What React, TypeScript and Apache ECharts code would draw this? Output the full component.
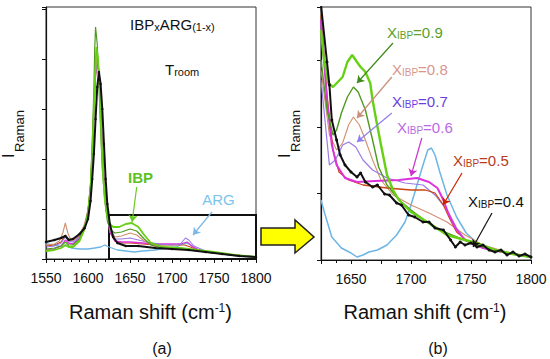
import React, { useEffect, useRef } from "react";
import * as echarts from "echarts";

const FONT = "'Liberation Sans', Arial, Helvetica, sans-serif";

// ---------- Panel (a): full range 1550-1800 cm-1 (intensity, a.u.) ----------
const IBP_A = [[1550,8],[1560,9],[1568,11],[1573,14],[1577,12],[1582,12],[1590,18],[1596,30],[1600,45],[1603,70],[1605,105],[1607,150],[1609,195],[1610,212],[1612,200],[1614,165],[1616,120],[1618,85],[1620,60],[1623,42],[1626,35],[1630,32],[1637,32],[1645,35],[1652,36],[1660,32],[1667,24],[1675,16],[1690,12],[1710,11],[1730,9],[1750,7],[1775,4],[1800,2]];
const X09_A = [[1550,10],[1560,11],[1568,13],[1573,17],[1577,14],[1582,14],[1590,20],[1596,32],[1600,48],[1603,75],[1605,115],[1607,170],[1608,210],[1609,232],[1611,215],[1613,175],[1615,130],[1617,90],[1620,58],[1623,38],[1627,29],[1632,26],[1640,27],[1650,30],[1658,28],[1667,20],[1675,14],[1690,11],[1710,10],[1730,8],[1750,6],[1775,4],[1800,2]];
const X08_A = [[1550,14],[1560,15],[1566,18],[1570,26],[1573,36],[1576,26],[1580,18],[1590,24],[1596,35],[1600,50],[1603,75],[1605,110],[1607,155],[1609,190],[1611,204],[1613,190],[1615,150],[1617,110],[1619,75],[1622,48],[1626,30],[1632,22],[1640,23],[1650,26],[1658,24],[1667,18],[1678,13],[1690,11],[1710,10],[1730,8],[1750,6],[1775,4],[1800,2]];
const X07_A = [[1550,12],[1560,13],[1568,16],[1573,22],[1577,18],[1582,17],[1590,22],[1596,33],[1600,48],[1603,72],[1605,106],[1607,150],[1609,186],[1611,201],[1613,188],[1615,150],[1617,110],[1619,76],[1622,48],[1626,29],[1632,20],[1640,20],[1650,21],[1660,19],[1670,17],[1685,15],[1700,14],[1710,15],[1716,21],[1720,19],[1726,13],[1740,8],[1760,5],[1780,3],[1800,2]];
const X06_A = [[1550,9],[1560,10],[1568,13],[1573,19],[1577,16],[1582,15],[1590,21],[1596,32],[1600,46],[1603,70],[1605,104],[1607,148],[1609,184],[1611,199],[1613,187],[1615,150],[1617,112],[1619,78],[1622,48],[1626,27],[1632,18],[1640,17],[1650,17],[1665,16],[1680,15],[1695,15],[1710,15],[1718,17],[1725,12],[1735,8],[1750,6],[1775,4],[1800,2]];
const X05_A = [[1550,13],[1560,14],[1568,17],[1573,24],[1577,20],[1582,19],[1590,23],[1596,34],[1600,47],[1603,71],[1605,105],[1607,148],[1609,183],[1611,197],[1613,185],[1615,148],[1617,110],[1619,76],[1622,47],[1626,27],[1632,18],[1640,16],[1650,16],[1665,15],[1680,14],[1700,14],[1715,14],[1722,12],[1730,9],[1745,7],[1770,4],[1800,2]];
const X04_A = [[1550,17],[1560,19],[1568,21],[1573,23],[1577,19],[1582,20],[1590,25],[1596,31],[1600,40],[1603,58],[1605,80],[1607,105],[1609,140],[1611,172],[1613,187],[1615,175],[1617,150],[1619,115],[1621,80],[1623,55],[1626,35],[1630,22],[1635,16],[1645,13],[1660,13],[1680,11],[1700,10],[1720,9],[1740,7],[1760,5],[1780,3],[1800,2]];
const ARG_A = [[1550,15],[1560,14],[1570,12],[1575,14],[1580,11],[1590,10],[1600,10],[1608,11],[1615,12],[1620,14],[1625,12],[1635,9],[1645,8],[1655,7],[1665,8],[1680,9],[1695,11],[1705,12],[1712,15],[1718,16],[1724,13],[1732,9],[1745,7],[1760,5],[1780,3],[1800,2]];

// ---------- Panel (b): zoom 1625-1800 cm-1 (intensity, a.u.) ----------
const IBP_B = [[1625,230],[1627,205],[1631,177],[1635,173],[1639,178],[1643,183],[1647,198],[1651,205],[1655,198],[1658,193],[1662,188],[1666,177],[1668,160],[1671,140],[1675,115],[1680,85],[1685,70],[1690,60],[1700,48],[1715,37],[1730,25],[1745,20],[1755,17],[1770,10],[1785,6],[1800,3]];
const X09_B = [[1625,200],[1630,150],[1635,125],[1638,130],[1642,147],[1647,163],[1652,173],[1656,168],[1662,150],[1668,120],[1673,93],[1680,75],[1690,60],[1700,50],[1720,32],[1740,22],[1760,13],[1780,7],[1800,3]];
const X08_B = [[1625,190],[1632,125],[1638,110],[1643,117],[1648,135],[1652,143],[1657,135],[1662,120],[1668,100],[1675,80],[1685,65],[1700,55],[1715,47],[1730,38],[1745,25],[1760,15],[1780,8],[1800,3]];
const X07_B = [[1625,180],[1632,95],[1637,100],[1643,115],[1648,118],[1654,113],[1660,100],[1668,90],[1680,82],[1695,77],[1710,75],[1720,65],[1730,50],[1738,32],[1745,20],[1760,12],[1780,7],[1800,3]];
const X06_B = [[1625,240],[1630,160],[1634,115],[1638,95],[1645,82],[1655,78],[1670,79],[1690,80],[1705,82],[1715,78],[1722,72],[1727,60],[1731,47],[1737,32],[1745,20],[1760,12],[1780,7],[1800,3]];
const X05_B = [[1625,245],[1630,165],[1635,110],[1640,88],[1648,80],[1660,75],[1680,72],[1700,70],[1712,70],[1720,67],[1727,55],[1732,42],[1738,28],[1748,18],[1760,12],[1780,7],[1800,3]];
const X04_B = [[1625,255],[1630,198],[1632,175],[1634,140],[1638,120],[1641,105],[1645,95],[1650,88],[1655,83],[1658,87],[1662,78],[1668,73],[1672,75],[1678,66],[1682,65],[1688,57],[1692,55],[1698,45],[1703,43],[1710,38],[1715,38],[1720,32],[1727,30],[1733,20],[1737,13],[1741,18],[1745,15],[1750,17],[1755,13],[1760,15],[1765,10],[1770,8],[1775,10],[1780,5],[1785,8],[1790,4],[1795,6],[1800,3]];
const ARG_B = [[1625,60],[1628,47],[1634,23],[1642,12],[1650,7],[1655,3],[1660,5],[1665,8],[1672,10],[1680,15],[1688,25],[1695,38],[1700,55],[1705,75],[1710,95],[1714,110],[1717,112],[1720,105],[1724,88],[1730,65],[1738,43],[1746,27],[1755,17],[1770,10],[1785,6],[1800,3]];

// Tick settings
const X_A_MIN = 1550, X_A_MAX = 1800, X_A_STEP = 50;
const X_B_MIN = 1625, X_B_MAX = 1800, X_B_STEP = 25;

// Annotation arrows (data coords): [from, to]
const ARROWS_A = { IBP: [[1658, 72], [1652.5, 37]], ARG: [[1747.5, 47], [1725, 24]] };
const ZOOM_BOX = [[1625, 0], [1800, 44]];
const ARROWS_B = {
  x09: [[1685, 217], [1655, 177]],
  x08: [[1684, 183], [1655, 142]],
  x07: [[1684, 147], [1655, 118]],
  x06: [[1709, 122], [1700, 84]],
  x05: [[1742.5, 87], [1726.7, 55]],
  x04: [[1767.5, 47], [1751.7, 13]],
};

const C = {
  ibp: "#66d014",
  x09: "#4e9a1e",
  x08: "#d09070",
  x07: "#9a7ae8",
  x06: "#dd33dd",
  x05: "#cc4411",
  x04: "#111111",
  arg: "#6bb6e6",
};

function arrow(pair: number[][], color: string) {
  return {
    silent: true,
    symbol: ["none", "arrow"],
    symbolSize: 7,
    lineStyle: { color, width: 1.2, type: "solid" },
    label: { show: false },
    emphasis: { disabled: true },
    data: [[{ coord: pair[0] }, { coord: pair[1] }]],
  };
}

function ser(data: number[][], color: string, width: number, idx: number, extra: any = {}) {
  return {
    type: "line",
    xAxisIndex: idx,
    yAxisIndex: idx,
    data,
    symbol: "none",
    showSymbol: false,
    lineStyle: { color, width },
    itemStyle: { color },
    emphasis: { disabled: true },
    ...extra,
  };
}

function richText(x: number, y: number, segs: [string, string][], color: string, size: number, sub: number, align = "left", vAlign = "top") {
  const text = segs.map(([t, k]) => `{${k}|${t}}`).join("");
  return {
    type: "text",
    x,
    y,
    silent: true,
    z: 10,
    style: {
      text,
      fill: color,
      align,
      verticalAlign: vAlign,
      fontFamily: FONT,
      fontSize: size,
      rich: {
        m: { fontSize: size, fontFamily: FONT, fill: color, verticalAlign: "top", lineHeight: size, padding: [0, 0, Math.round(size * 0.35), 0] },
        s: { fontSize: sub, fontFamily: FONT, fill: color, verticalAlign: "bottom", lineHeight: sub },
        p: { fontSize: sub, fontFamily: FONT, fill: color, verticalAlign: "top", lineHeight: sub },
        mp: { fontSize: size, fontFamily: FONT, fill: color, verticalAlign: "bottom", lineHeight: size, padding: [Math.round(size * 0.2), 0, 0, 0] },
      },
    },
  };
}

function plainText(x: number, y: number, text: string, color: string, size: number, weight = "normal") {
  return {
    type: "text",
    x,
    y,
    silent: true,
    z: 10,
    style: { text, fill: color, fontSize: size, fontFamily: FONT, fontWeight: weight, align: "center", verticalAlign: "middle" },
  };
}

function iRaman(xI: number, xR: number) {
  return [
    { type: "text", x: xI, y: 158, rotation: Math.PI / 2, silent: true, style: { text: "I", fill: "#111", fontSize: 16, fontFamily: FONT, align: "left", verticalAlign: "middle" } },
    { type: "text", x: xR, y: 152, rotation: Math.PI / 2, silent: true, style: { text: "Raman", fill: "#111", fontSize: 13, fontFamily: FONT, align: "left", verticalAlign: "middle" } },
  ];
}

function xAxisCfg(idx: number, min: number, max: number, step: number, minorSplit: number, labelFn?: (v: number) => string) {
  return {
    type: "value",
    gridIndex: idx,
    min,
    max,
    interval: step,
    axisLine: { show: true, onZero: false, lineStyle: { color: "#111", width: 1.2 } },
    axisTick: { show: true, inside: false, length: 4, lineStyle: { color: "#111" } },
    minorTick: { show: true, splitNumber: minorSplit, length: 3, lineStyle: { color: "#111" } },
    splitLine: { show: false },
    minorSplitLine: { show: false },
    axisLabel: {
      show: true,
      color: "#111",
      fontSize: 14,
      fontFamily: FONT,
      margin: 12,
      formatter: labelFn || ((v: number) => String(v)),
    },
  };
}

function yAxisCfg(idx: number, max: number, step: number) {
  return {
    type: "value",
    gridIndex: idx,
    min: 0,
    max,
    interval: step,
    axisLine: { show: true, lineStyle: { color: "#111", width: 1.2 } },
    axisTick: { show: true, inside: false, length: 4, lineStyle: { color: "#111" } },
    axisLabel: { show: false },
    splitLine: { show: false },
  };
}

export default function App() {
  const ref = useRef<HTMLDivElement>(null);
  useEffect(() => {
    if (!ref.current) return;
    document.body.style.margin = "0";
    const chart = echarts.init(ref.current, null, { renderer: "svg" });
    const option: any = {
      animation: false,
      backgroundColor: "#ffffff",
      grid: [
        { left: 46, top: 7, width: 210, height: 252, show: true, borderColor: "#333", borderWidth: 1, backgroundColor: "transparent" },
        { left: 321, top: 7, width: 210, height: 253, show: true, borderColor: "#333", borderWidth: 1, backgroundColor: "transparent" },
      ],
      xAxis: [
        xAxisCfg(0, X_A_MIN, X_A_MAX, X_A_STEP, 5),
        xAxisCfg(1, X_B_MIN, X_B_MAX, X_B_STEP, 2, (v: number) => (v % 50 === 0 ? String(v) : "")),
      ],
      yAxis: [yAxisCfg(0, 252, 50), yAxisCfg(1, 253, 66.5)],
      series: [
        // panel a
        ser(ARG_A, C.arg, 1.3, 0, { markLine: arrow(ARROWS_A.ARG, "#7ab8e8") }),
        ser(X05_A, C.x05, 1.1, 0),
        ser(X06_A, C.x06, 1.3, 0),
        ser(X07_A, C.x07, 1.1, 0),
        ser(X08_A, C.x08, 1.1, 0),
        ser(X09_A, C.x09, 1.2, 0),
        ser(IBP_A, C.ibp, 1.8, 0, { markLine: arrow(ARROWS_A.IBP, "#66cc22") }),
        ser(X04_A, C.x04, 2, 0, {
          symbol: "circle",
          showSymbol: true,
          symbolSize: 2.5,
          markArea: {
            silent: true,
            itemStyle: { color: "rgba(0,0,0,0)", borderColor: "#111", borderWidth: 2 },
            label: { show: false },
            data: [[{ coord: ZOOM_BOX[0] }, { coord: ZOOM_BOX[1] }]],
          },
        }),
        // panel b
        ser(ARG_B, C.arg, 1.5, 1),
        ser(X08_B, C.x08, 1.1, 1, { markLine: arrow(ARROWS_B.x08, "#c98e7a") }),
        ser(X07_B, C.x07, 1.2, 1, { markLine: arrow(ARROWS_B.x07, "#8f7ff0") }),
        ser(X05_B, C.x05, 1.3, 1, { markLine: arrow(ARROWS_B.x05, "#cc2200") }),
        ser(X06_B, C.x06, 2, 1, { markLine: arrow(ARROWS_B.x06, "#cc33cc") }),
        ser(X09_B, C.x09, 1.4, 1, { markLine: arrow(ARROWS_B.x09, "#3e8a1a") }),
        ser(IBP_B, C.ibp, 2.4, 1),
        ser(X04_B, C.x04, 2, 1, {
          symbol: "circle",
          showSymbol: true,
          symbolSize: 3,
          markLine: arrow(ARROWS_B.x04, "#111"),
        }),
      ],
      graphic: [
        // panel a texts
        richText(130, 17, [["IBP", "m"], ["x", "s"], ["ARG", "m"], ["(1-x)", "s"]], "#111", 15, 11),
        richText(165, 62, [["T", "m"], ["room", "s"]], "#111", 15, 11),
        plainText(140.5, 177, "IBP", "#5cc21f", 15, "bold"),
        plainText(218.5, 199, "ARG", "#7cc4ee", 15),
        ...iRaman(8.5, 19.5),
        richText(150.5, 312, [["Raman shift (cm", "mp"], ["-1", "p"], [")", "mp"]], "#111", 20, 12, "center", "middle"),
        plainText(162, 348, "(a)", "#111", 16),
        // yellow arrow
        {
          type: "polygon",
          silent: true,
          z: 10,
          shape: { points: [[261, 228], [295, 228], [295, 220], [314, 237], [295, 253], [295, 245], [261, 245]] },
          style: { fill: "#ffff00", stroke: "#222", lineWidth: 1.5 },
        },
        // panel b texts
        ...iRaman(284, 295),
        richText(387, 25, [["X", "m"], ["IBP", "s"], ["=0.9", "m"]], "#5aa02a", 15, 10),
        richText(392, 62, [["X", "m"], ["IBP", "s"], ["=0.8", "m"]], "#d9968a", 15, 10),
        richText(392, 94, [["X", "m"], ["IBP", "s"], ["=0.7", "m"]], "#6b3ee0", 15, 10),
        richText(397, 120, [["X", "m"], ["IBP", "s"], ["=0.6", "m"]], "#b86ae6", 15, 10),
        richText(453, 153, [["X", "m"], ["IBP", "s"], ["=0.5", "m"]], "#b83a1c", 15, 10),
        richText(468, 194, [["X", "m"], ["IBP", "s"], ["=0.4", "m"]], "#111", 15, 10),
        richText(425, 312, [["Raman shift (cm", "mp"], ["-1", "p"], [")", "mp"]], "#111", 20, 12, "center", "middle"),
        plainText(438, 348, "(b)", "#111", 16),
      ],
    };
    chart.setOption(option);
    return () => chart.dispose();
  }, []);
  return <div ref={ref} style={{ position: "absolute", left: 0, top: 0, width: 550, height: 359 }} />;
}
